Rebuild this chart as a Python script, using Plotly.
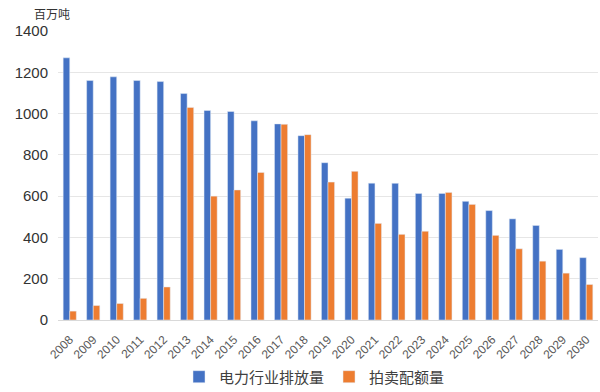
import plotly.graph_objects as go

years = [str(y) for y in range(2008, 2031)]
emissions = [1270, 1160, 1178, 1160, 1155, 1097, 1015, 1010, 965, 950, 893, 762, 590,
             663, 662, 613, 613, 575, 530, 490, 458, 342, 302]
auction = [43, 70, 80, 105, 160, 1030, 600, 630, 715, 948, 898, 668, 720,
           468, 415, 430, 618, 560, 410, 345, 285, 227, 172]
series_names = ["电力行业排放量", "拍卖配额量"]
y_ticks = [0, 200, 400, 600, 800, 1000, 1200, 1400]
unit_label = "百万吨"

font_family = "Noto Sans CJK SC, Noto Sans, Arial, sans-serif"
num_family = "Liberation Sans, Arial, sans-serif"

fig = go.Figure()
fig.add_trace(go.Bar(x=years, y=emissions, name=series_names[0], marker_color="#4472C4"))
fig.add_trace(go.Bar(x=years, y=auction, name=series_names[1], marker_color="#ED7D31"))

fig.update_layout(
    width=600, height=392,
    margin=dict(l=58, r=2, t=31, b=72, autoexpand=False),
    paper_bgcolor="white", plot_bgcolor="white",
    barmode="group", bargap=0.44, bargroupgap=0.0,
    font=dict(family=font_family, color="#404040"),
    showlegend=True,
    legend=dict(orientation="h", x=0.475, xanchor="center", y=-0.197, yanchor="middle",
                font=dict(size=15, color="#404040"), itemwidth=30, traceorder="normal"),
    annotations=[dict(text=unit_label, xref="paper", yref="paper", x=-0.012, y=1.0,
                      xanchor="center", yanchor="bottom", yshift=7, showarrow=False,
                      font=dict(size=12, color="#333333"))],
)
fig.update_yaxes(range=[0, 1400], tickvals=y_ticks, showgrid=True, gridcolor="#E6E6E6",
                 zeroline=False, showline=False,
                 tickfont=dict(size=15, color="#333333", family=num_family),
                 ticklabelstandoff=9, automargin=False)
fig.update_xaxes(tickangle=-45, tickfont=dict(size=12, color="#595959", family=num_family),
                 showline=True, linecolor="#D9D9D9", showgrid=False, automargin=False,
                 ticklabelstandoff=7)

fig.write_html("out.html", post_script="document.body.style.margin='0';",
               config={"displayModeBar": False})
